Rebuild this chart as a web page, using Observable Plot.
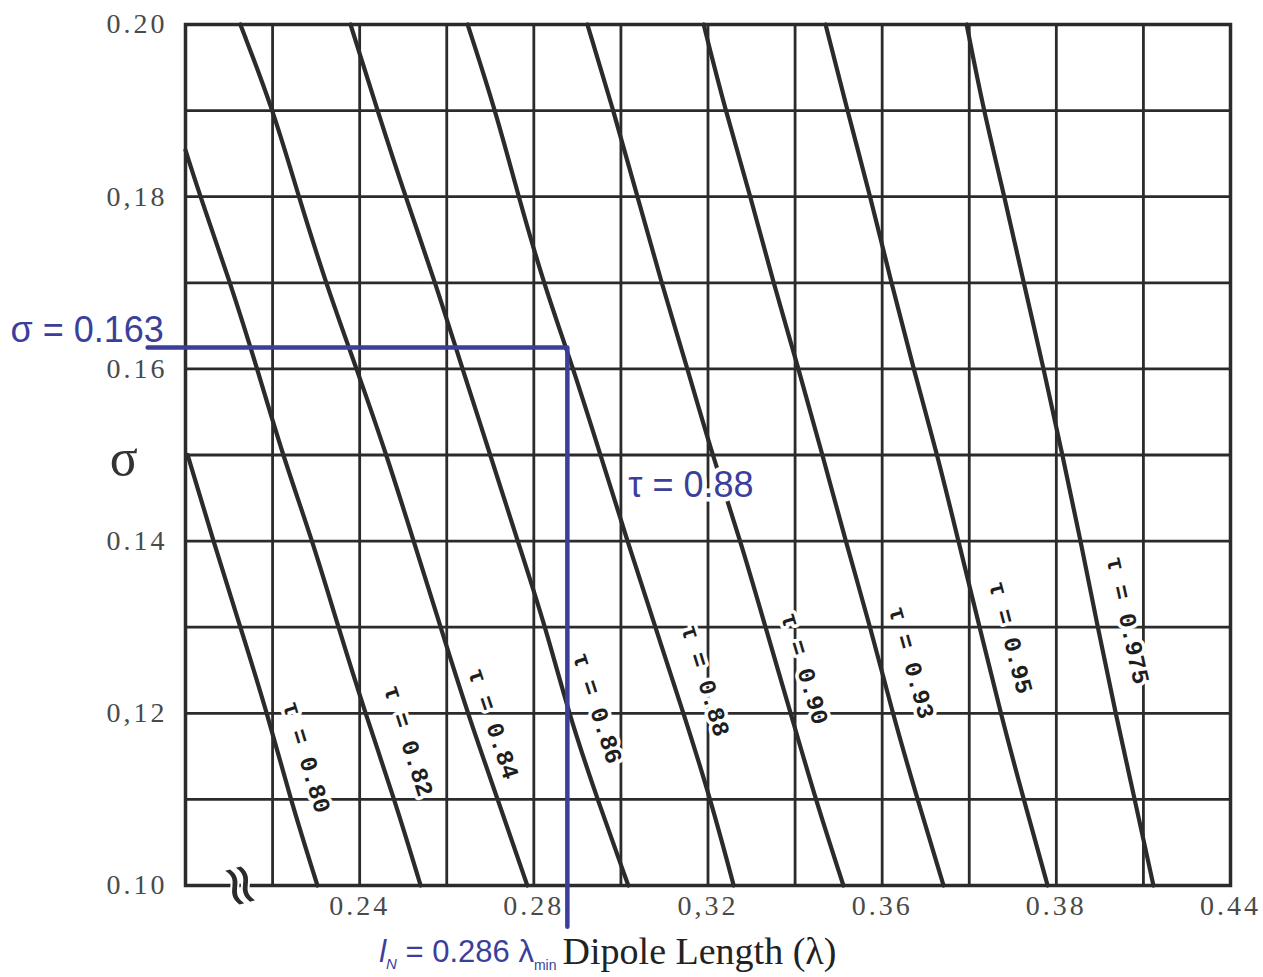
<!DOCTYPE html>
<html>
<head>
<meta charset="utf-8">
<script src="https://cdn.jsdelivr.net/npm/d3@7"></script>
<script src="https://cdn.jsdelivr.net/npm/@observablehq/plot@0.6"></script>
<style>
  html, body { margin: 0; padding: 0; background: #fff; }
  #chart svg { display: block; }
  g[aria-label="x-axis tick label"] text,
  g[aria-label="y-axis tick label"] text { letter-spacing: 3px; }
</style>
</head>
<body>
<div id="chart"></div>
<script>
// ---- data: [dipole length (λ), σ] ----
const tau080 = [[0.2005,0.150],[0.2064,0.140],[0.2126,0.130],[0.2188,0.120],[0.2241,0.110],[0.2303,0.100]];
const tau082 = [[0.2000,0.1854],[0.2034,0.180],[0.2103,0.170],[0.2165,0.160],[0.2223,0.150],[0.2292,0.140],[0.2351,0.130],[0.2413,0.120],[0.2480,0.110],[0.2540,0.100]];
const tau084 = [[0.2126,0.20],[0.2202,0.19],[0.2260,0.18],[0.2322,0.17],[0.2393,0.16],[0.2462,0.15],[0.2524,0.14],[0.2586,0.13],[0.2648,0.12],[0.2717,0.11],[0.2785,0.10]];
const tau086 = [[0.2379,0.20],[0.2441,0.19],[0.2505,0.18],[0.2574,0.17],[0.2636,0.16],[0.2700,0.15],[0.2763,0.14],[0.2827,0.13],[0.2880,0.12],[0.2946,0.11],[0.3017,0.10]];
const tau088 = [[0.2648,0.20],[0.2712,0.19],[0.2765,0.18],[0.2822,0.17],[0.2891,0.16],[0.2953,0.15],[0.3015,0.14],[0.3079,0.13],[0.3144,0.12],[0.3206,0.11],[0.3259,0.10]];
const tau090 = [[0.2923,0.20],[0.2983,0.19],[0.3038,0.18],[0.3093,0.17],[0.3153,0.16],[0.3210,0.15],[0.3275,0.14],[0.3332,0.13],[0.3390,0.12],[0.3447,0.11],[0.3511,0.10]];
const tau093 = [[0.3190,0.20],[0.3240,0.19],[0.3298,0.18],[0.3350,0.17],[0.3408,0.16],[0.3463,0.15],[0.3516,0.14],[0.3573,0.13],[0.3624,0.12],[0.3681,0.11],[0.3741,0.10]];
const tau095 = [[0.3470,0.20],[0.3520,0.19],[0.3573,0.18],[0.3621,0.17],[0.3672,0.16],[0.3727,0.15],[0.3775,0.14],[0.3824,0.13],[0.3872,0.12],[0.3925,0.11],[0.3980,0.10]];
const tau0975 = [[0.3794,0.20],[0.3833,0.19],[0.3881,0.18],[0.3925,0.17],[0.3971,0.16],[0.4014,0.15],[0.4056,0.14],[0.4095,0.13],[0.4136,0.12],[0.4180,0.11],[0.4223,0.10]];

const tauNames = ["0.80","0.82","0.84","0.86","0.88","0.90","0.93","0.95","0.975"];
const tauSeries = [tau080, tau082, tau084, tau086, tau088, tau090, tau093, tau095, tau0975];
const labelText = ["τ = 0.80","τ = 0.82","τ = 0.84","τ = 0.86","τ = 0.88","τ = 0.90","τ = 0.93","τ = 0.95","τ = 0.975"];
const labelX = [0.2278,0.2512,0.2707,0.2946,0.3194,0.3422,0.3667,0.3895,0.4164];
const labelSigma = [0.1149,0.1168,0.1188,0.1206,0.1238,0.1252,0.1259,0.1288,0.1308];

// design example guide (σ = 0.163, l_N ≈ 0.286 λ)
const guideSigma = 0.1625;
const guideLength = 0.2877;
const guidePath = [[0.1913, guideSigma], [guideLength, guideSigma], [guideLength, 0.0952]];

// grid and ticks
const xGridTicks = [0.20,0.22,0.24,0.26,0.28,0.30,0.32,0.34,0.36,0.38,0.40,0.42,0.44];
const yGridTicks = [0.10,0.11,0.12,0.13,0.14,0.15,0.16,0.17,0.18,0.19,0.20];
const xLabelTicks = [0.24,0.28,0.32,0.36,0.40,0.44];
const xTickLabels = ["0.24","0.28","0,32","0.36","0.38","0.44"];
const yLabelTicks = [0.10,0.12,0.14,0.16,0.18,0.20];
const yTickLabels = ["0.10","0,12","0.14","0.16","0,18","0.20"];

// ---- layout ----
const W = 1263, H = 977, mL = 185, mR = 33, mT = 24, mB = 92;
const kx = (W - mL - mR) / (0.44 - 0.20);
const ky = (H - mT - mB) / (0.20 - 0.10);
const blue = "#3b3f9b";
const ink = "#2b2b2b";

const curveData = tauSeries.flatMap((pts, i) => pts.map(([x, y]) => ({tau: tauNames[i], x, y})));
const labels = labelText.map((t, i) => {
  const pts = tauSeries[i];
  const a = pts[0], b = pts[pts.length - 1];
  const r = Math.atan2((a[1] - b[1]) * ky, (b[0] - a[0]) * kx) * 180 / Math.PI;
  return {t, x: labelX[i], y: labelSigma[i], r};
});
const guide = guidePath.map(([x, y]) => ({x, y}));
const lookup = (ticks, names) => d => names[ticks.findIndex(v => Math.abs(v - d) < 1e-9)];
const DESIGN_TEXT = "l = 0.286 λ";

const svg = Plot.plot({
  width: W, height: H,
  marginLeft: mL, marginRight: mR, marginTop: mT, marginBottom: mB,
  style: {background: "white", color: "#444", overflow: "visible"},
  x: {domain: [0.20, 0.44]},
  y: {domain: [0.10, 0.20]},
  marks: [
    Plot.gridX({ticks: xGridTicks, stroke: ink, strokeOpacity: 1, strokeWidth: 2.8}),
    Plot.gridY({ticks: yGridTicks, stroke: ink, strokeOpacity: 1, strokeWidth: 2.8}),
    Plot.frame({stroke: ink, strokeWidth: 3.5}),
    Plot.axisX({ticks: xLabelTicks, tickFormat: lookup(xLabelTicks, xTickLabels), tickSize: 0, tickPadding: 10,
      fontSize: 28, fontFamily: "Liberation Serif", fill: "#4a4a4a", label: null}),
    Plot.axisY({ticks: yLabelTicks, tickFormat: lookup(yLabelTicks, yTickLabels), tickSize: 0, tickPadding: 18,
      fontSize: 28, fontFamily: "Liberation Serif", fill: "#4a4a4a", label: null}),
    Plot.line(curveData, {x: "x", y: "y", z: "tau", stroke: ink, strokeWidth: 4.2, curve: "basis"}),
    Plot.text(labels, {x: "x", y: "y", text: "t", rotate: "r", fontFamily: "Liberation Mono", fontWeight: "bold",
      fontSize: 24, fill: "#1e1e1e", stroke: "white", strokeWidth: 7, paintOrder: "stroke"}),
    // axis break symbol
    Plot.text([{x: 0.2126, y: 0.10}], {x: "x", y: "y", text: () => "≈", rotate: 75, fontSize: 58,
      fontFamily: "DejaVu Sans", fill: ink, stroke: "white", strokeWidth: 4, paintOrder: "stroke"}),
    // σ axis title
    Plot.text([{x: 0.1858, y: 0.1496}], {x: "x", y: "y", text: () => "σ", fontSize: 52,
      fontFamily: "Liberation Serif", fill: "#333"}),
    // design guide
    Plot.line(guide, {x: "x", y: "y", stroke: blue, strokeWidth: 4.5}),
    Plot.text([{x: 0.1598, y: 0.1645}], {x: "x", y: "y", text: () => "σ = 0.163", textAnchor: "start",
      fontSize: 36, fontFamily: "Liberation Sans", fontWeight: 300, fill: blue}),
    Plot.text([{x: 0.3017, y: 0.1465}], {x: "x", y: "y", text: () => "τ = 0.88", textAnchor: "start",
      fontSize: 36, fontFamily: "Liberation Sans", fontWeight: 300, fill: blue,
      stroke: "white", strokeWidth: 9, paintOrder: "stroke"}),
    Plot.text([{x: 0.2852, y: 0.0923}], {x: "x", y: "y", text: () => DESIGN_TEXT, textAnchor: "end",
      fontSize: 31, fontFamily: "Liberation Sans", fontWeight: 300, fill: blue}),
    Plot.text([{x: 0.2866, y: 0.0923}], {x: "x", y: "y", text: () => "Dipole Length (λ)", textAnchor: "start",
      fontSize: 38, fontFamily: "Liberation Serif", fill: "#222"})
  ]
});

// subscripts for the design-length annotation
const t = Array.from(svg.querySelectorAll("text")).find(el => el.textContent === DESIGN_TEXT);
if (t) {
  while (t.firstChild) t.removeChild(t.firstChild);
  const parts = [
    {s: "l", style: "italic", size: 31, dy: 0},
    {s: "N", style: "italic", size: 15, dy: 7},
    {s: " = 0.286 λ", style: "normal", size: 31, dy: -7},
    {s: "min", style: "normal", size: 14, dy: 8}
  ];
  for (const p of parts) {
    const ts = document.createElementNS("http://www.w3.org/2000/svg", "tspan");
    ts.textContent = p.s;
    ts.setAttribute("font-style", p.style);
    ts.setAttribute("font-size", p.size);
    if (p.dy) ts.setAttribute("dy", p.dy);
    t.appendChild(ts);
  }
}

document.getElementById("chart").appendChild(svg);
</script>
</body>
</html>
